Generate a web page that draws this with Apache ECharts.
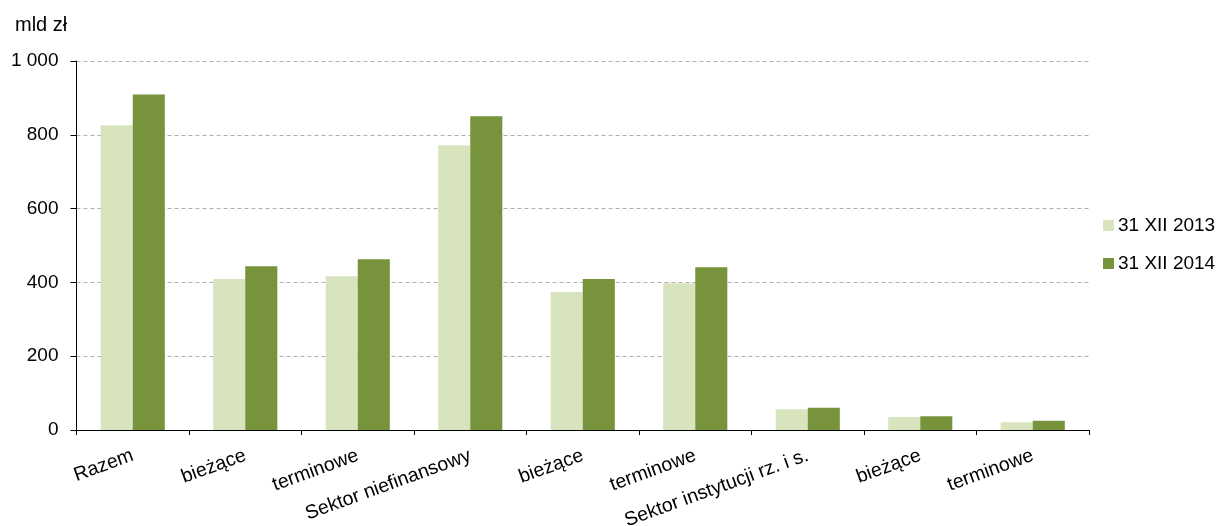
<!DOCTYPE html>
<html>
<head>
<meta charset="utf-8">
<script src="https://cdn.jsdelivr.net/npm/echarts@6/dist/echarts.min.js"></script>
<style>
html,body{margin:0;padding:0;background:#fff;}
#chart{width:1219px;height:526px;}
</style>
</head>
<body>
<div id="chart"></div>
<script>
const categories = ['Razem','bieżące','terminowe','Sektor niefinansowy','bieżące','terminowe','Sektor instytucji rz. i s.','bieżące','terminowe'];
const series2013 = [826, 409, 417, 772, 374, 398, 56, 35, 21];
const series2014 = [909, 444, 463, 850, 409, 441, 60, 37, 25];
const seriesNames = ['31 XII 2013','31 XII 2014'];
const unitLabel = 'mld zł';

const font = 'Liberation Sans, Arial, sans-serif';
const chart = echarts.init(document.getElementById('chart'));
chart.setOption({
  animation:false,
  textStyle:{fontFamily:font},
  title:{text:unitLabel,left:10,top:10,textStyle:{fontFamily:font,fontSize:20,fontWeight:'normal',color:'#000'}},
  legend:{orient:'vertical',left:1098,top:211,itemWidth:11,itemHeight:11,itemGap:19,icon:'rect',
    textStyle:{fontFamily:font,fontSize:19,color:'#000',padding:[0,0,0,-1]},data:seriesNames},
  grid:{left:76.5,right:130,top:61,bottom:96,containLabel:false,outerBoundsMode:'none'},
  xAxis:{type:'category',data:categories,
    axisLine:{lineStyle:{color:'#000',width:1}},
    axisTick:{show:true,length:5,lineStyle:{color:'#000'}},
    axisLabel:{rotate:20,interval:0,fontSize:19.5,color:'#000',fontFamily:font,margin:25}},
  yAxis:{type:'value',min:0,max:1000,interval:200,
    axisLine:{show:true,lineStyle:{color:'#000'}},
    axisTick:{show:true,length:6,lineStyle:{color:'#000'}},
    axisLabel:{fontSize:19,color:'#000',fontFamily:font,margin:18,
      formatter:v=>String(v).replace(/\B(?=(\d{3})+(?!\d))/g,' ')},
    splitLine:{show:true,lineStyle:{color:'#b0b0b0',type:[4,3],width:1}}},
  series:[
    {name:seriesNames[0],type:'bar',data:series2013,itemStyle:{color:'#d7e4bd'},barGap:'0%',barCategoryGap:'43%'},
    {name:seriesNames[1],type:'bar',data:series2014,itemStyle:{color:'#77933c'},barGap:'0%',barCategoryGap:'43%'}
  ]
});
</script>
</body>
</html>
